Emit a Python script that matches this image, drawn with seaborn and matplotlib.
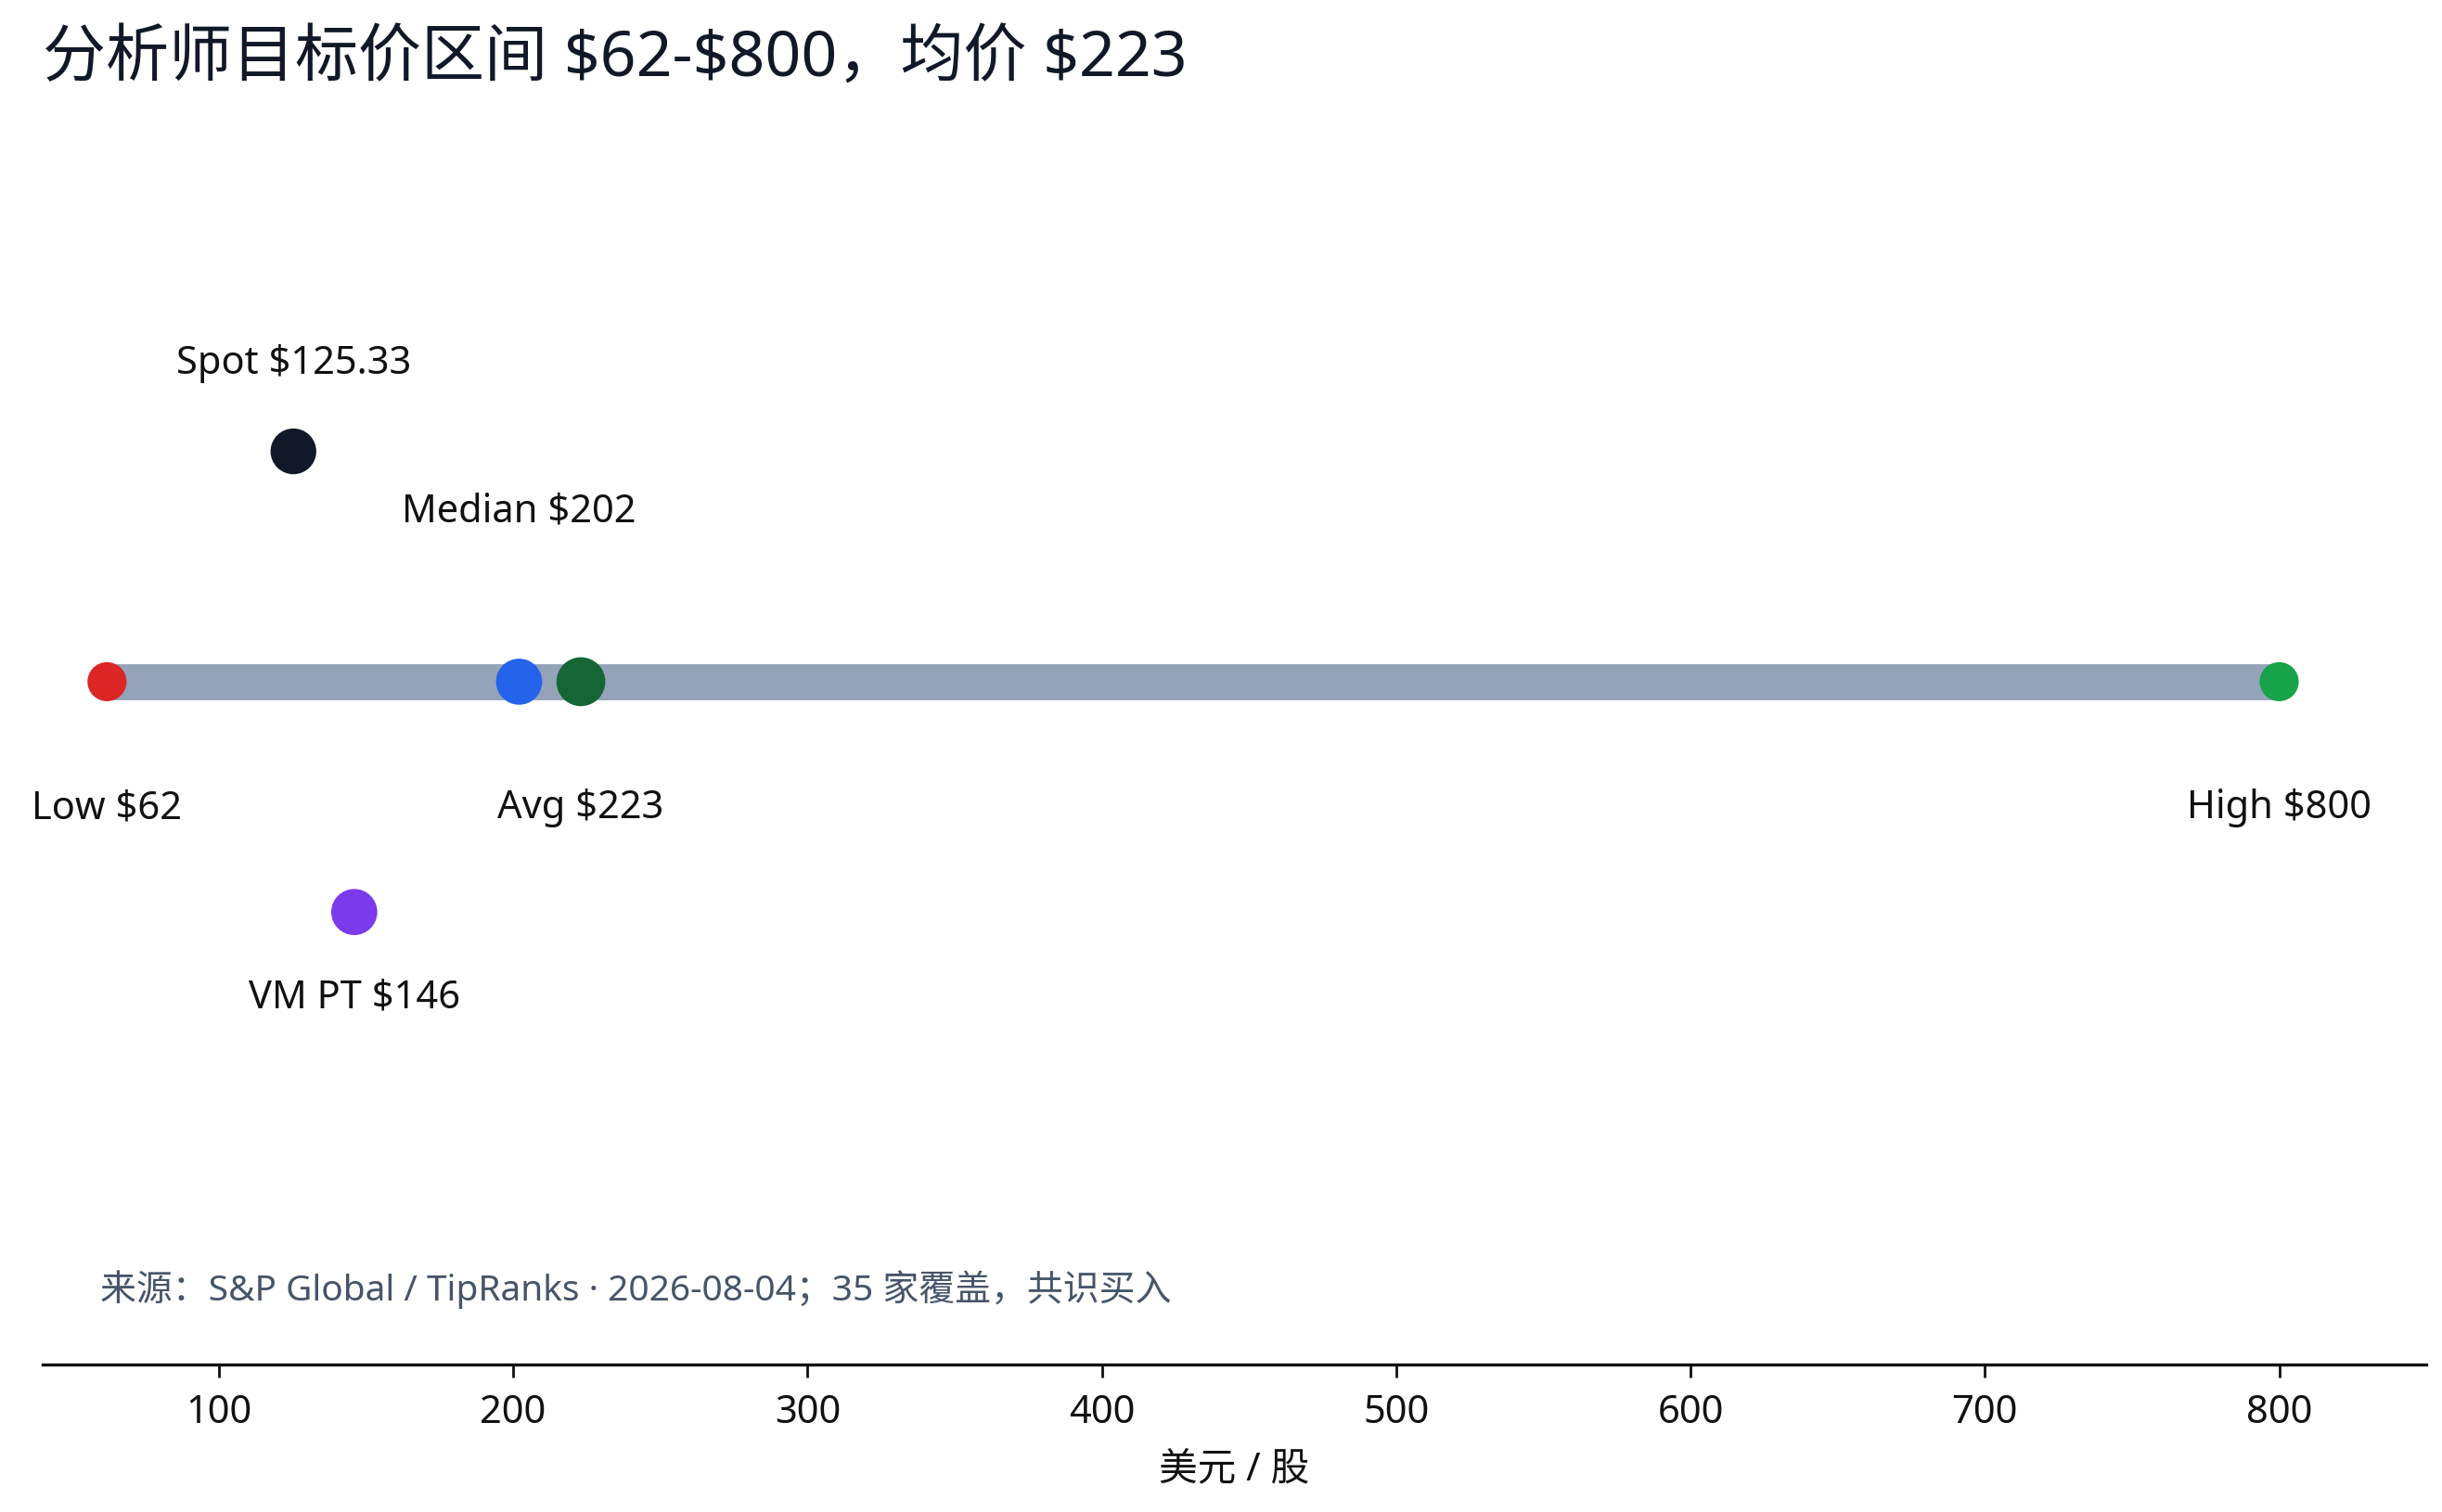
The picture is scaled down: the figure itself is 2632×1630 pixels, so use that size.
import pandas as pd
import seaborn as sns
import matplotlib.pyplot as plt

# 数据
names = ["Low", "Median", "Avg", "High", "Spot", "VM PT"]
values = [62, 202, 223, 800, 125.33, 146]
rows = [0, 0, 0, 0, 1, -1]
labels = ["Low $62", "Median $202", "Avg $223", "High $800", "Spot $125.33", "VM PT $146"]
ticks = [100, 200, 300, 400, 500, 600, 700, 800]

title = "分析师目标价区间 $62-$800，均价 $223"
source = "来源：S&P Global / TipRanks · 2026-08-04；35 家覆盖，共识买入"
xlabel = "美元 / 股"

# 样式
colors = {"Low": "#dc2626", "Median": "#2563eb", "Avg": "#166534",
          "High": "#16a34a", "Spot": "#111827", "VM PT": "#7c3aed"}
sizes = {"Low": 230, "Median": 320, "Avg": 360, "High": 230, "Spot": 315, "VM PT": 320}
label_dy = {"Low": -0.55, "Median": 0.74, "Avg": -0.55, "High": -0.55, "Spot": 0.38, "VM PT": -0.37}

df = pd.DataFrame({"name": names, "value": values, "row": rows, "label": labels})

sns.set_theme(style="white")
plt.rcParams['font.family'] = ['Noto Sans', 'Noto Sans CJK SC', 'DejaVu Sans']

fig = plt.figure(figsize=(13.16, 8.15), dpi=200)
ax = fig.add_axes([0.0173, 0.0973, 0.9763, 0.8327])

# 区间条
ax.plot([values[0], values[3]], [0, 0], color="#94a3b8", lw=14,
        solid_capstyle="butt", zorder=1)

sns.scatterplot(data=df, x="value", y="row", hue="name", palette=colors,
                size="name", sizes=sizes, linewidth=0, legend=False,
                zorder=3, ax=ax)

for _, r in df.iterrows():
    ax.text(r["value"], r["row"] + label_dy[r["name"]], r["label"],
            ha="center", va="center", fontsize=15, color="#111111")

ax.text(0.0243, 0.06, source, transform=ax.transAxes, fontsize=14,
        color="#475569", va="center", ha="left")

ax.set_xlim(40, 850)
ax.set_ylim(-2.966, 2.5)
ax.set_xticks(ticks)
ax.set_yticks([])
ax.tick_params(axis="x", length=5, width=1, pad=6, labelsize=15,
               colors="#111111", bottom=True)
ax.set_xlabel(xlabel, fontsize=15, color="#111111", labelpad=7)
ax.set_ylabel("")
for s in ["top", "right", "left"]:
    ax.spines[s].set_visible(False)
ax.spines["bottom"].set_color("#111111")
ax.spines["bottom"].set_linewidth(1.2)

fig.text(0.0173, 1 - 38 / 966, title, fontsize=24.5, color="#111827",
         ha="left", va="center")

plt.savefig("out.png", dpi=200)
